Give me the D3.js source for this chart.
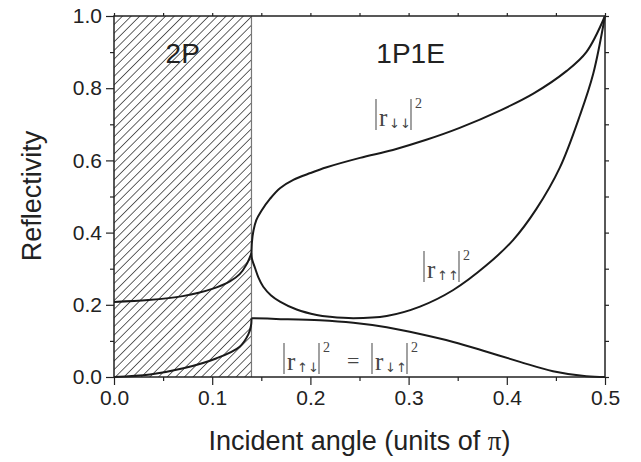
<!DOCTYPE html>
<html>
<head>
<meta charset="utf-8">
<script src="https://cdn.jsdelivr.net/npm/d3@7"></script>
<style>
    body { margin: 0; background: #fff; }
    text { font-family: "Liberation Sans", Arial, sans-serif; fill: #222; }
    .math { font-family: "Liberation Serif", "DejaVu Serif", serif; fill: #444; }
    .arrows { font-family: "DejaVu Sans", sans-serif; fill: #444; }
</style>
</head>
<body>
<script>
// regions
const regionNames = ["2P", "1P1E"];
const regionEdge = 0.14;

// |r_dd|^2 (1P1E)
const ddX = [0.14, 0.1405, 0.142, 0.145, 0.15, 0.159, 0.169, 0.1826, 0.2, 0.2166, 0.2505, 0.284, 0.318, 0.352, 0.393, 0.427, 0.461, 0.481, 0.5];
const ddY = [0.343, 0.375, 0.405, 0.435, 0.46, 0.494, 0.523, 0.546, 0.565, 0.581, 0.607, 0.629, 0.657, 0.69, 0.738, 0.785, 0.848, 0.9, 1.0];

// |r_uu|^2 (1P1E)
const uuX = [0.14, 0.1405, 0.142, 0.1436, 0.147, 0.152, 0.16, 0.169, 0.186, 0.2064, 0.22, 0.2437, 0.2777, 0.3116, 0.3455, 0.3795, 0.4066, 0.43, 0.454, 0.4745, 0.488, 0.5];
const uuY = [0.343, 0.328, 0.314, 0.302, 0.276, 0.25, 0.226, 0.209, 0.187, 0.172, 0.167, 0.163, 0.169, 0.195, 0.241, 0.31, 0.38, 0.465, 0.58, 0.725, 0.84, 1.0];

// |r_ud|^2 = |r_du|^2 (1P1E)
const udX = [0.14, 0.165, 0.2098, 0.2437, 0.2777, 0.3116, 0.3455, 0.3795, 0.4134, 0.447, 0.481, 0.5];
const udY = [0.163, 0.161, 0.157, 0.15, 0.1376, 0.119, 0.097, 0.07, 0.042, 0.016, 0.002, 0];

// 2P region, upper and lower curves
const p2UpX = [0, 0.035, 0.07, 0.1, 0.118, 0.128, 0.135, 0.14];
const p2UpY = [0.208, 0.213, 0.224, 0.244, 0.265, 0.285, 0.312, 0.343];
const p2LoX = [0, 0.0367, 0.0706, 0.1046, 0.128, 0.1368, 0.1395, 0.14];
const p2LoY = [0, 0.007, 0.024, 0.052, 0.084, 0.118, 0.142, 0.163];

// ticks
const xMajor = [0, 0.1, 0.2, 0.3, 0.4, 0.5];
const xMinor = [0.05, 0.15, 0.25, 0.35, 0.45];
const yMajor = [0, 0.2, 0.4, 0.6, 0.8, 1.0];
const yMinor = [0.1, 0.3, 0.5, 0.7, 0.9];

const width = 641, height = 462;
const plot = { left: 114, right: 605, top: 16, bottom: 377 };

const svg = d3.select("body").append("svg")
    .attr("width", width)
    .attr("height", height);

const x = d3.scaleLinear().domain([0, 0.5]).range([plot.left, plot.right]);
const y = d3.scaleLinear().domain([0, 1]).range([plot.bottom, plot.top]);

// hatch pattern for the 2P region
svg.append("defs").append("pattern")
    .attr("id", "hatch")
    .attr("patternUnits", "userSpaceOnUse")
    .attr("width", 6.1)
    .attr("height", 6.1)
    .attr("patternTransform", "rotate(45)")
    .append("line")
    .attr("x1", 0).attr("y1", 0)
    .attr("x2", 0).attr("y2", 6.1)
    .attr("stroke", "#111")
    .attr("stroke-width", 1.3);

svg.append("rect")
    .attr("x", x(0))
    .attr("y", y(1))
    .attr("width", x(regionEdge) - x(0))
    .attr("height", y(0) - y(1))
    .attr("fill", "url(#hatch)");

svg.append("line")
    .attr("x1", x(regionEdge)).attr("x2", x(regionEdge))
    .attr("y1", y(0)).attr("y2", y(1))
    .attr("stroke", "#777")
    .attr("stroke-width", 1.2);

// curves
const zip = (xs, ys) => xs.map((v, i) => [v, ys[i]]);
const line = d3.line()
    .x(d => x(d[0]))
    .y(d => y(d[1]))
    .curve(d3.curveCatmullRom.alpha(0.5));

[[ddX, ddY], [uuX, uuY], [udX, udY], [p2UpX, p2UpY], [p2LoX, p2LoY]].forEach(function (s) {
    svg.append("path")
        .attr("d", line(zip(s[0], s[1])))
        .attr("fill", "none")
        .attr("stroke", "#1a1a1a")
        .attr("stroke-width", 2);
});

// axes
function styleAxis(g) {
    g.select(".domain").remove();
    g.selectAll(".tick line").attr("stroke", "#222").attr("stroke-width", 1.2);
    g.selectAll(".tick text").style("font-size", "21px").attr("fill", "#222");
}

svg.append("g")
    .attr("transform", `translate(0,${plot.bottom})`)
    .call(d3.axisBottom(x).tickValues(xMajor).tickSize(8).tickPadding(5).tickFormat(d3.format(".1f")))
    .call(styleAxis);
svg.append("g")
    .attr("transform", `translate(0,${plot.bottom})`)
    .call(d3.axisBottom(x).tickValues(xMinor).tickSize(4).tickFormat(""))
    .call(styleAxis);
svg.append("g")
    .attr("transform", `translate(${plot.left},0)`)
    .call(d3.axisLeft(y).tickValues(yMajor).tickSize(8).tickPadding(4).tickFormat(d3.format(".1f")))
    .call(styleAxis);
svg.append("g")
    .attr("transform", `translate(${plot.left},0)`)
    .call(d3.axisLeft(y).tickValues(yMinor).tickSize(4).tickFormat(""))
    .call(styleAxis);
svg.append("g")
    .attr("transform", `translate(${plot.right},0)`)
    .call(d3.axisRight(y).tickValues(yMajor.concat(yMinor)).tickSize(4).tickFormat(""))
    .call(styleAxis);
svg.append("g")
    .attr("transform", `translate(0,${plot.top})`)
    .call(d3.axisTop(x).tickValues(xMajor.concat(xMinor)).tickSize(3).tickFormat(""))
    .call(styleAxis);

// frame
svg.append("rect")
    .attr("x", plot.left).attr("y", plot.top)
    .attr("width", plot.right - plot.left)
    .attr("height", plot.bottom - plot.top)
    .attr("fill", "none")
    .attr("stroke", "#222")
    .attr("stroke-width", 1.5);

// region names
svg.append("text")
    .attr("x", x(0.07)).attr("y", 63)
    .attr("text-anchor", "middle")
    .style("font-size", "28px")
    .text(regionNames[0]);
svg.append("text")
    .attr("x", x(0.302)).attr("y", 63)
    .attr("text-anchor", "middle")
    .style("font-size", "28px")
    .text(regionNames[1]);

// axis titles
const xTitle = svg.append("text")
    .attr("x", (plot.left + plot.right) / 2)
    .attr("y", 450)
    .attr("text-anchor", "middle")
    .style("font-size", "27px");
xTitle.append("tspan").text("Incident angle (units of ");
xTitle.append("tspan").attr("class", "math").style("fill", "#222").text("π");
xTitle.append("tspan").text(")");

svg.append("text")
    .attr("transform", "translate(41,196) rotate(-90)")
    .attr("text-anchor", "middle")
    .style("font-size", "27px")
    .text("Reflectivity");

// math labels |r|^2
function modLabel(x0, base, arrows) {
    const g = svg.append("g").attr("transform", `translate(${x0},${base})`);
    const bar = (bx) => g.append("line")
        .attr("x1", bx).attr("x2", bx)
        .attr("y1", -27).attr("y2", 4)
        .attr("stroke", "#555").attr("stroke-width", 1.1);
    bar(0);
    g.append("text").attr("class", "math").attr("x", 3).attr("y", 0)
        .style("font-size", "25px").text("r");
    g.append("text").attr("class", "arrows").attr("x", 13).attr("y", 2)
        .style("font-size", "13px").text(arrows);
    bar(35);
    g.append("text").attr("class", "math").attr("x", 39).attr("y", -18)
        .style("font-size", "14px").text("2");
    return g;
}

modLabel(376, 126, "↓↓");
modLabel(424, 278, "↑↑");
modLabel(284, 370, "↑↓");
svg.append("text").attr("class", "math")
    .attr("x", 347).attr("y", 368)
    .style("font-size", "22px")
    .text("=");
modLabel(372, 370, "↓↑");
</script>
</body>
</html>
